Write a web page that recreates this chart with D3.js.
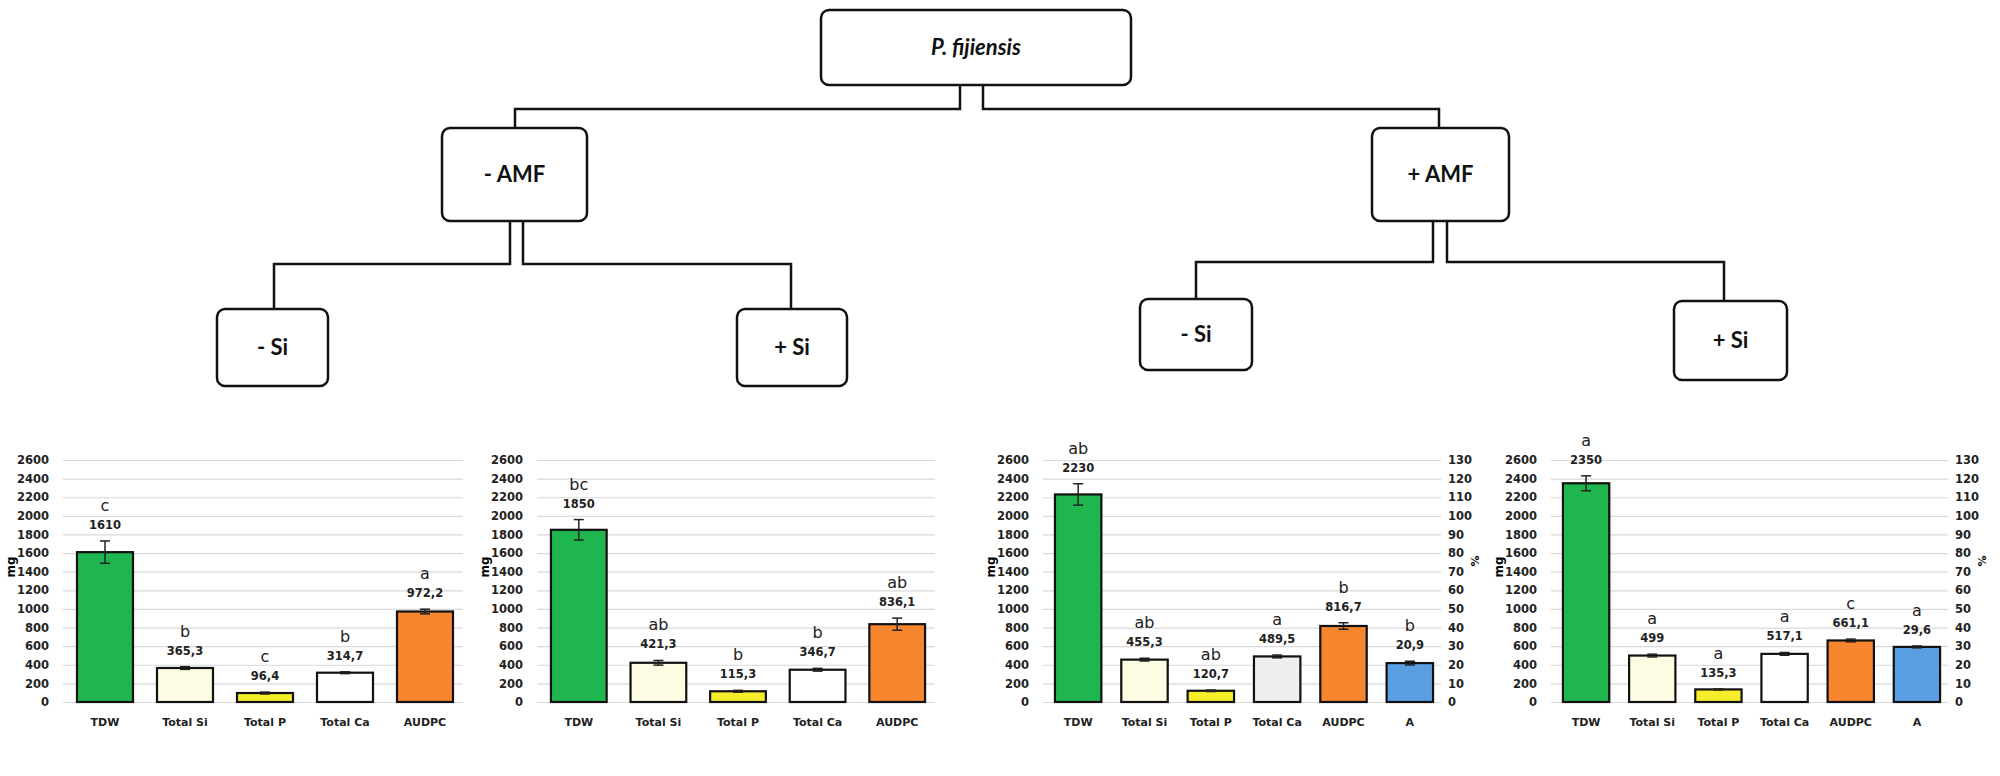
<!DOCTYPE html>
<html>
<head>
<meta charset="utf-8">
<script src="https://cdn.jsdelivr.net/npm/d3@7"></script>
<style>
  body { margin: 0; background: #fff; }
  svg { display: block; }
  .tick text { font-family: "DejaVu Sans", sans-serif; font-weight: bold; }
</style>
</head>
<body>
<div class="chart"></div>
<script>
// categories and tick labels
var catsMg = ["TDW", "Total Si", "Total P", "Total Ca", "AUDPC"];
var catsAll = ["TDW", "Total Si", "Total P", "Total Ca", "AUDPC", "A"];
var mgTicks = [0, 200, 400, 600, 800, 1000, 1200, 1400, 1600, 1800, 2000, 2200, 2400, 2600];
var pctTicks = [0, 10, 20, 30, 40, 50, 60, 70, 80, 90, 100, 110, 120, 130];

// -AMF / -Si
var valsNoAmfNoSi = [1610, 365.3, 96.4, 314.7, 972.2];
var errNoAmfNoSi = [120, 15, 10, 10, 25];
var letNoAmfNoSi = ["c", "b", "c", "b", "a"];
// -AMF / +Si
var valsNoAmfSi = [1850, 421.3, 115.3, 346.7, 836.1];
var errNoAmfSi = [110, 25, 10, 15, 65];
var letNoAmfSi = ["bc", "ab", "b", "b", "ab"];
// +AMF / -Si
var valsAmfNoSi = [2230, 455.3, 120.7, 489.5, 816.7, 20.9];
var errAmfNoSi = [115, 15, 8, 15, 35, 1];
var letAmfNoSi = ["ab", "ab", "ab", "a", "b", "b"];
// +AMF / +Si
var valsAmfSi = [2350, 499, 135.3, 517.1, 661.1, 29.6];
var errAmfSi = [80, 15, 5, 15, 15, 0.5];
var letAmfSi = ["a", "a", "a", "a", "c", "a"];

var W = 2000, H = 776;
var svg = d3.select(".chart").append("svg").attr("width", W).attr("height", H);

// ---------- tree diagram ----------
var boxes = [
  {label: "P. fijiensis", x: 821, y: 10, w: 310, h: 75, italic: true},
  {label: "- AMF", x: 442, y: 128, w: 145, h: 93},
  {label: "+ AMF", x: 1372, y: 128, w: 137, h: 93},
  {label: "- Si", x: 217, y: 309, w: 111, h: 77},
  {label: "+ Si", x: 737, y: 309, w: 110, h: 77},
  {label: "- Si", x: 1140, y: 299, w: 112, h: 71},
  {label: "+ Si", x: 1674, y: 301, w: 113, h: 79}
];
var links = [
  [[960, 85], [960, 109], [515, 109], [515, 128]],
  [[983, 85], [983, 109], [1439, 109], [1439, 128]],
  [[510, 221], [510, 264], [274, 264], [274, 309]],
  [[523, 221], [523, 264], [791, 264], [791, 309]],
  [[1433, 221], [1433, 262], [1196, 262], [1196, 299]],
  [[1447, 221], [1447, 262], [1724, 262], [1724, 301]]
];
var tree = svg.append("g");
tree.selectAll("path.link").data(links).enter().append("path")
  .attr("class", "link")
  .attr("d", d3.line())
  .attr("fill", "none").attr("stroke", "#111").attr("stroke-width", 2.5);
var nodes = tree.selectAll("g.node").data(boxes).enter().append("g").attr("class", "node");
nodes.append("rect")
  .attr("x", d => d.x).attr("y", d => d.y).attr("width", d => d.w).attr("height", d => d.h)
  .attr("rx", 8).attr("fill", "#fff").attr("stroke", "#111").attr("stroke-width", 2.5);
nodes.append("text")
  .attr("x", d => d.x + d.w / 2).attr("y", d => d.y + d.h / 2)
  .attr("dy", "0.36em").attr("text-anchor", "middle")
  .attr("font-family", "Lato, sans-serif").attr("font-weight", "bold")
  .attr("font-style", d => d.italic ? "italic" : "normal")
  .attr("font-size", 22).attr("fill", "#111")
  .text(d => d.label);

// ---------- bar panels ----------
var fills = {"TDW": "#1fb54f", "Total Si": "#fdfbe2", "Total P": "#f7ee2b", "Total Ca": "#ffffff", "AUDPC": "#f7862f", "A": "#5b9fe3"};

var panels = [
  {cats: catsMg, vals: valsNoAmfNoSi, errs: errNoAmfNoSi, lets: letNoAmfNoSi, x0: 65, x1: 465, pct: false},
  {cats: catsMg, vals: valsNoAmfSi, errs: errNoAmfSi, lets: letNoAmfSi, x0: 539, x1: 937, pct: false},
  {cats: catsAll, vals: valsAmfNoSi, errs: errAmfNoSi, lets: letAmfNoSi, x0: 1045, x1: 1443, pct: true, caFill: "#efefef"},
  {cats: catsAll, vals: valsAmfSi, errs: errAmfSi, lets: letAmfSi, x0: 1553, x1: 1950, pct: true}
];

var yTop = 460, yBot = 702;
var fmt = v => String(v).replace(".", ",");

panels.forEach(function(p) {
  var g = svg.append("g");
  var x = d3.scaleBand().domain(p.cats).range([p.x0, p.x1]).paddingInner(0.3).paddingOuter(0.15);
  var yMg = d3.scaleLinear().domain([0, 2600]).range([yBot, yTop]);
  var yPct = d3.scaleLinear().domain([0, 130]).range([yBot, yTop]);
  var yFor = c => c === "A" ? yPct : yMg;

  // gridlines
  g.append("g")
    .attr("transform", `translate(${p.x0 - 2},0)`)
    .call(d3.axisLeft(yMg).tickValues(mgTicks).tickSize(-(p.x1 - p.x0)).tickFormat(""))
    .call(a => a.select(".domain").remove())
    .call(a => a.selectAll("line").attr("stroke", "#d9d9d9").attr("stroke-width", 1.2));

  // left axis labels
  g.append("g")
    .attr("transform", `translate(${p.x0 - 16},0)`)
    .call(d3.axisLeft(yMg).tickValues(mgTicks).tickSize(0).tickPadding(0).tickFormat(d3.format("d")))
    .call(a => a.select(".domain").remove())
    .call(a => a.selectAll("text").attr("font-size", 11.5).attr("fill", "#222"));

  g.append("text")
    .attr("transform", `translate(${p.x0 - 54},${(yTop + yBot) / 2 - 14}) rotate(-90)`)
    .attr("text-anchor", "middle").attr("dy", "0.35em")
    .attr("font-family", "DejaVu Sans, sans-serif").attr("font-weight", "bold").attr("font-size", 12)
    .text("mg");

  if (p.pct) {
    g.append("g")
      .attr("transform", `translate(${p.x1 + 5},0)`)
      .call(d3.axisRight(yPct).tickValues(pctTicks).tickSize(0).tickPadding(0).tickFormat(d3.format("d")))
      .call(a => a.select(".domain").remove())
      .call(a => a.selectAll("text").attr("font-size", 11.5).attr("fill", "#222"));
    g.append("text")
      .attr("transform", `translate(${p.x1 + 32},${(yTop + yBot) / 2 - 20}) rotate(90)`)
      .attr("text-anchor", "middle").attr("dy", "0.35em")
      .attr("font-family", "DejaVu Sans, sans-serif").attr("font-weight", "bold").attr("font-size", 11)
      .text("%");
  }

  var rows = p.cats.map((c, i) => ({cat: c, v: p.vals[i], e: p.errs[i], l: p.lets[i]}));

  // bars
  g.selectAll("rect.bar").data(rows).enter().append("rect")
    .attr("class", "bar")
    .attr("x", d => x(d.cat)).attr("width", x.bandwidth())
    .attr("y", d => yFor(d.cat)(d.v))
    .attr("height", d => yBot - yFor(d.cat)(d.v))
    .attr("fill", d => d.cat === "Total Ca" && p.caFill ? p.caFill : fills[d.cat])
    .attr("stroke", "#111").attr("stroke-width", 2.2);

  // error bars
  var eb = g.selectAll("g.err").data(rows).enter().append("g").attr("class", "err");
  var cx = d => x(d.cat) + x.bandwidth() / 2;
  eb.append("line")
    .attr("x1", cx).attr("x2", cx)
    .attr("y1", d => yFor(d.cat)(d.v - d.e)).attr("y2", d => yFor(d.cat)(d.v + d.e))
    .attr("stroke", "#222").attr("stroke-width", 1.5);
  [-1, 1].forEach(function(s) {
    eb.append("line")
      .attr("x1", d => cx(d) - 5).attr("x2", d => cx(d) + 5)
      .attr("y1", d => yFor(d.cat)(d.v + s * d.e)).attr("y2", d => yFor(d.cat)(d.v + s * d.e))
      .attr("stroke", "#222").attr("stroke-width", 1.5);
  });

  // value and letter labels
  g.selectAll("text.val").data(rows).enter().append("text")
    .attr("class", "val")
    .attr("x", cx).attr("y", d => yFor(d.cat)(d.v + d.e) - 12)
    .attr("text-anchor", "middle")
    .attr("font-family", "DejaVu Sans, sans-serif").attr("font-weight", "bold").attr("font-size", 11.5)
    .attr("fill", "#222")
    .text(d => fmt(d.v));
  g.selectAll("text.let").data(rows).enter().append("text")
    .attr("class", "let")
    .attr("x", cx).attr("y", d => yFor(d.cat)(d.v + d.e) - 30)
    .attr("text-anchor", "middle")
    .attr("font-family", "DejaVu Sans, sans-serif").attr("font-size", 16)
    .attr("fill", "#222")
    .text(d => d.l);

  // category labels
  g.selectAll("text.cat").data(rows).enter().append("text")
    .attr("class", "cat")
    .attr("x", cx).attr("y", 726)
    .attr("text-anchor", "middle")
    .attr("font-family", "DejaVu Sans, sans-serif").attr("font-weight", "bold").attr("font-size", 11)
    .attr("fill", "#222")
    .text(d => d.cat);
});
</script>
</body>
</html>
